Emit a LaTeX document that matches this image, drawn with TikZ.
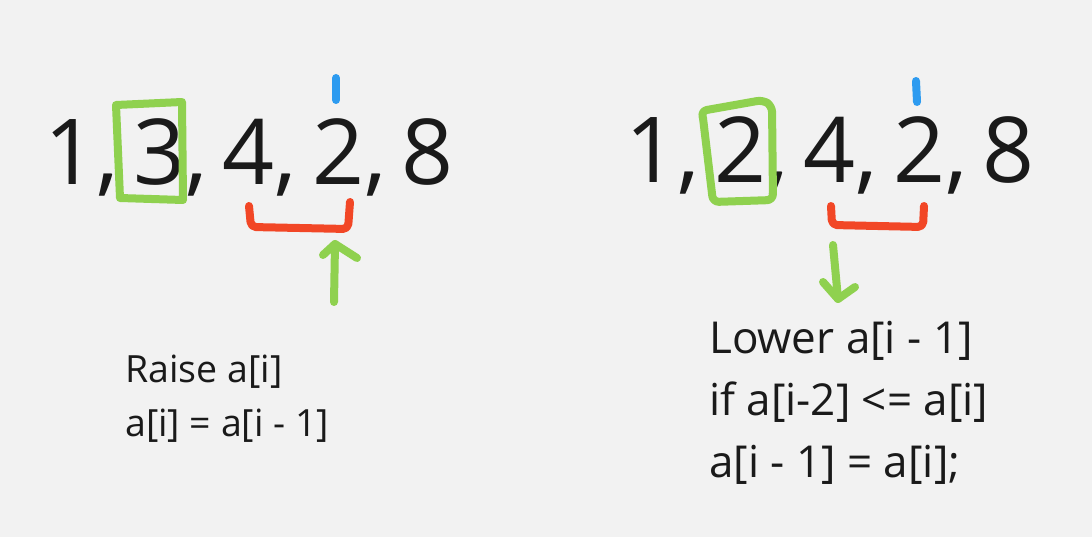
\documentclass[tikz,border=0pt]{standalone}
\usepackage{fontspec}
\setmainfont{Open Sans}
\definecolor{bg}{HTML}{F2F2F2}
\definecolor{mgreen}{HTML}{8FD14F}
\definecolor{mred}{HTML}{F24726}
\definecolor{mblue}{HTML}{2D9BF0}
\definecolor{ink}{HTML}{1A1A1A}
\newcommand\mybigfont{\fontsize{91}{100}\selectfont\spaceskip=15pt\relax}
\begin{document}
\begin{tikzpicture}[x=1pt,y=-1pt,
  bignum/.style={font=\mybigfont, text=ink, inner sep=0pt, anchor=base west},
  noteL/.style={font=\fontsize{37.5}{42}\selectfont, text=ink, inner sep=0pt, anchor=base west},
  noteR/.style={font=\fontsize{44}{50}\selectfont, text=ink, inner sep=0pt, anchor=base west},
  pen/.style={line width=8pt, line cap=round, line join=round},
  ipen/.style={line width=8pt, line cap=round, mblue}]
\useasboundingbox (0,0) rectangle (1092,537);
\fill[bg] (0,0) rectangle (1092,537);

% left
\node[bignum] (seqL) at (44,185) {1, 3, 4, 2, 8};
\draw[pen, mgreen] (116,105) -- (182,102) -- (183,200) -- (120,198) -- cycle;
\draw[ipen] (336,78) -- (336,100);
\draw[pen, mred, rounded corners=5pt] (249,206) -- (251,227) -- (348,229) -- (350,202);
\draw[pen, mgreen] (334,302) -- (335,244);
\draw[pen, mgreen] (323,255) -- (335,244) -- (357,258);
\node[noteL] (l1) at (125,382) {Raise a[i]};
\node[noteL] (l2) at (125,436) {a[i] = a[i - 1]};

% right
\node[bignum] (seqR) at (625,183) {1, 2, 4, 2, 8};
\draw[pen, mgreen, rounded corners=6pt] (703,118) -- (701,111) -- (763,100) -- (772,106) -- (773,200) -- (713,202) -- (703,118);
\draw[ipen] (916,81) -- (917,102);
\draw[pen, mred, rounded corners=5pt] (831,206) -- (832,225) -- (923,227) -- (924,206);
\draw[pen, mgreen] (833,245) -- (838,299);
\draw[pen, mgreen] (823,282) -- (838,299) -- (855,287);
\node[noteR] (r1) at (709,353) {Lower a[i - 1]};
\node[noteR] (r2) at (709,415) {if a[i-2] <= a[i]};
\node[noteR] (r3) at (709,477) {a[i - 1] = a[i];};
\end{tikzpicture}
\end{document}
